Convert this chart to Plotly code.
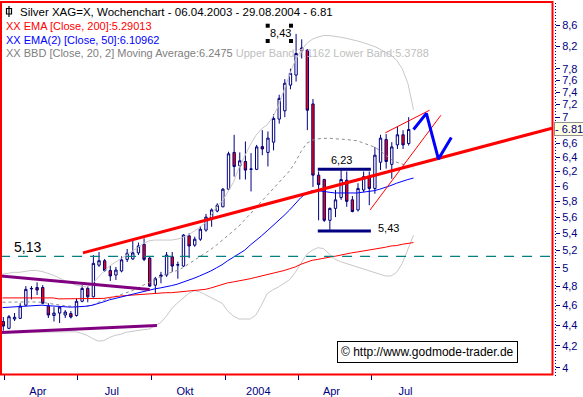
import math
import plotly.graph_objects as go
import pandas as pd

# ---------------- data ----------------
weeks = pd.date_range("2003-03-31", periods=73, freq="7D")      # weekly candles
ind_dates = pd.date_range("2003-03-30", periods=74, freq="7D")  # indicator points

opens = [4.435, 4.368, 4.46, 4.467, 4.60, 4.77, 4.785, 4.785, 4.59, 4.495,
         4.52, 4.50, 4.515, 4.495, 4.64, 4.775, 4.687, 5.03, 5.08, 4.97,
         4.92, 4.965, 5.095, 5.10, 5.17, 5.27, 5.11, 4.81, 4.905, 4.92,
         5.125, 5.03, 5.02, 5.37, 5.26, 5.33, 5.44, 5.59, 5.676, 5.73,
         5.96, 6.47, 6.28, 6.34, 6.23, 6.23, 6.555, 6.47, 6.62, 6.97,
         7.10, 7.52, 7.69, 8.17, 8.13, 7.21, 6.15, 6.09, 5.56, 5.71,
         5.85, 6.08, 5.82, 5.69, 5.95, 6.13, 5.97, 6.33, 6.66, 6.30,
         6.58, 6.73, 6.60]
highs = [4.48, 4.50, 4.52, 4.62, 4.80, 4.80, 4.84, 4.81, 4.62, 4.58,
         4.59, 4.55, 4.54, 4.67, 4.81, 4.80, 5.145, 5.18, 5.10, 5.02,
         5.01, 5.13, 5.215, 5.33, 5.29, 5.34, 5.135, 4.90, 4.955, 5.18,
         5.18, 5.07, 5.39, 5.40, 5.36, 5.49, 5.64, 5.71, 5.775, 5.975,
         6.48, 6.73, 6.47, 6.63, 6.46, 6.58, 6.80, 6.78, 7.05, 7.36,
         7.62, 7.80, 8.43, 8.33, 8.15, 7.29, 6.20, 6.10, 5.72, 5.95,
         6.22, 6.20, 5.87, 6.04, 6.20, 6.20, 6.55, 6.73, 6.74, 6.62,
         6.86, 6.80, 7.00]
lows = [4.345, 4.36, 4.44, 4.46, 4.59, 4.66, 4.705, 4.61, 4.47, 4.435,
        4.42, 4.47, 4.465, 4.485, 4.63, 4.63, 4.68, 5.01, 4.955, 4.855,
        4.866, 4.95, 5.065, 5.09, 5.145, 5.075, 4.79, 4.72, 4.83, 4.90,
        4.955, 4.88, 5.01, 5.11, 5.24, 5.31, 5.42, 5.48, 5.66, 5.725,
        5.95, 6.13, 6.09, 6.09, 5.93, 6.22, 6.43, 6.27, 6.50, 6.90,
        7.00, 7.45, 7.58, 7.98, 6.80, 5.99, 5.56, 5.54, 5.43, 5.60,
        5.82, 5.73, 5.66, 5.67, 5.92, 5.75, 5.90, 6.22, 6.24, 6.10,
        6.52, 6.52, 6.57]
closes = [4.39, 4.483, 4.477, 4.59, 4.765, 4.775, 4.758, 4.62, 4.50, 4.52,
          4.58, 4.53, 4.48, 4.64, 4.775, 4.687, 5.05, 5.08, 4.97, 4.91,
          4.975, 5.09, 5.165, 5.17, 5.25, 5.095, 4.80, 4.88, 4.92, 5.145,
          5.02, 5.035, 5.38, 5.25, 5.33, 5.45, 5.60, 5.69, 5.75, 5.96,
          6.45, 6.27, 6.35, 6.22, 6.235, 6.55, 6.52, 6.68, 6.98, 7.30,
          7.55, 7.72, 8.07, 8.12, 7.11, 6.15, 6.02, 5.56, 5.71, 5.82,
          6.09, 5.80, 5.67, 5.97, 6.13, 5.97, 6.43, 6.68, 6.34, 6.55,
          6.73, 6.58, 6.81]

ema200 = [4.675, 4.675, 4.675, 4.675, 4.675, 4.675, 4.675, 4.675, 4.675, 4.675,
          4.665, 4.665, 4.665, 4.665, 4.665, 4.665, 4.665, 4.665, 4.67, 4.68,
          4.69, 4.695, 4.70, 4.705, 4.71, 4.715, 4.72, 4.72, 4.725, 4.73,
          4.73, 4.735, 4.74, 4.745, 4.75, 4.755, 4.765, 4.78, 4.80, 4.82,
          4.835, 4.845, 4.855, 4.87, 4.88, 4.895, 4.91, 4.92, 4.935, 4.95,
          4.97, 4.99, 5.01, 5.04, 5.065, 5.085, 5.095, 5.11, 5.12, 5.13,
          5.145, 5.16, 5.17, 5.18, 5.19, 5.20, 5.21, 5.22, 5.235, 5.25,
          5.255, 5.27, 5.28, 5.29]
ema50 = [4.575, 4.578, 4.582, 4.586, 4.59, 4.595, 4.60, 4.60, 4.595, 4.59,
         4.585, 4.58, 4.58, 4.582, 4.585, 4.59, 4.60, 4.615, 4.635, 4.655,
         4.67, 4.685, 4.70, 4.715, 4.73, 4.745, 4.76, 4.77, 4.78, 4.79,
         4.805, 4.82, 4.84, 4.86, 4.885, 4.91, 4.935, 4.965, 5.00, 5.035,
         5.08, 5.12, 5.16, 5.20, 5.26, 5.31, 5.37, 5.43, 5.49, 5.55,
         5.62, 5.69, 5.77, 5.85, 5.91, 5.94, 5.94, 5.93, 5.92, 5.91,
         5.91, 5.91, 5.91, 5.91, 5.92, 5.93, 5.94, 5.96, 5.98, 6.01,
         6.04, 6.07, 6.09, 6.11]
bb_mid = [4.63, 4.632, 4.634, 4.635, 4.635, 4.634, 4.632, 4.63, 4.62, 4.61,
          4.60, 4.595, 4.59, 4.587, 4.585, 4.59, 4.60, 4.63, 4.65, 4.67,
          4.69, 4.71, 4.73, 4.75, 4.78, 4.81, 4.84, 4.87, 4.90, 4.93,
          4.95, 4.97, 5.00, 5.04, 5.08, 5.12, 5.16, 5.21, 5.26, 5.32,
          5.37, 5.43, 5.49, 5.56, 5.64, 5.72, 5.80, 5.88, 5.96, 6.04,
          6.12, 6.21, 6.33, 6.48, 6.60, 6.65, 6.67, 6.68, 6.68, 6.67,
          6.67, 6.66, 6.65, 6.64, 6.61, 6.58, 6.55, 6.50, 6.44, 6.37,
          6.33, 6.30, 6.27, 6.2475]
bb_up = [4.93, 4.94, 4.95, 4.95, 4.96, 4.97, 4.97, 4.96, 4.94, 4.92,
         4.89, 4.86, 4.84, 4.81, 4.80, 4.79, 4.83, 4.90, 4.96, 5.02,
         5.06, 5.10, 5.14, 5.18, 5.23, 5.28, 5.31, 5.32, 5.32, 5.32,
         5.32, 5.33, 5.35, 5.38, 5.42, 5.47, 5.53, 5.62, 5.73, 5.80,
         5.92, 6.05, 6.25, 6.42, 6.58, 6.72, 6.82, 6.88, 7.00, 7.18,
         7.45, 7.70, 7.95, 8.12, 8.25, 8.33, 8.37, 8.40, 8.40, 8.39,
         8.37, 8.35, 8.33, 8.30, 8.27, 8.24, 8.20, 8.15, 8.10, 8.04,
         7.95, 7.80, 7.55, 7.1162]
bb_low = [4.32, 4.32, 4.32, 4.32, 4.325, 4.33, 4.33, 4.33, 4.33, 4.33,
          4.33, 4.33, 4.33, 4.335, 4.32, 4.30, 4.27, 4.245, 4.25, 4.28,
          4.30, 4.31, 4.33, 4.34, 4.35, 4.355, 4.36, 4.39, 4.42, 4.48,
          4.56, 4.62, 4.67, 4.72, 4.75, 4.74, 4.71, 4.68, 4.65, 4.62,
          4.54, 4.49, 4.46, 4.46, 4.46, 4.50, 4.60, 4.72, 4.76, 4.79,
          4.83, 4.87, 4.95, 5.05, 5.15, 5.20, 5.23, 5.22, 5.16, 5.10,
          5.07, 5.05, 5.03, 5.01, 4.99, 4.97, 4.95, 4.93, 4.91, 4.91,
          4.95, 5.05, 5.22, 5.3788]

# chart drawings (endpoints of hand-drawn lines)
trend_dates = ["2003-07-08", "2005-02-10 05:00"]
trend_vals = [5.17, 6.83]
purple_up_dates = ["2003-03-27", "2003-09-29"]
purple_up_vals = [4.91, 4.763]
purple_low_dates = ["2003-03-27", "2003-10-08"]
purple_low_vals = [4.326, 4.395]
level_513_dates = ["2003-03-27", "2005-02-10 05:00"]
level_513 = 5.13
box_dates = ["2004-04-25", "2004-06-30"]
level_hi = 6.23
level_lo = 5.43
chan_up_dates = ["2004-07-18", "2004-09-11"]
chan_up_vals = [6.76, 7.11]
chan_low_dates = ["2004-06-29", "2004-09-25"]
chan_low_vals = [5.69, 7.03]
proj_dates = ["2004-08-22", "2004-09-07", "2004-09-22", "2004-10-08"]
proj_vals = [6.81, 7.06, 6.375, 6.69]
peak_date = "2004-03-29"
peak_val = 8.43
last_close = 6.81

ytick_vals = [4.0, 4.2, 4.4, 4.6, 4.8, 5.0, 5.2, 5.4, 5.6, 5.8, 6.0, 6.2, 6.4,
              6.6, 7.0, 7.2, 7.4, 7.6, 7.8, 8.2, 8.6]
ytick_text = ["4", "4,2", "4,4", "4,6", "4,8", "5", "5,2", "5,4", "5,6", "5,8",
              "6", "6,2", "6,4", "6,6", "7", "7,2", "7,4", "7,6", "7,8",
              "8,2", "8,6"]
quarter_starts = ["2003-04-01", "2003-07-01", "2003-10-01", "2004-01-01",
                  "2004-04-01", "2004-07-01"]
xlabel_pos = ["2003-05-13", "2003-08-13", "2003-11-12", "2004-02-11",
              "2004-05-12", "2004-08-12"]
xlabel_text = ["Apr", "Jul", "Okt", "2004", "Apr", "Jul"]

# ---------------- layout helpers ----------------
W, H = 583, 397
X0, X1, Y0, Y1 = 1, 555, 2, 374
NAVY = "#000080"
FONT = "Liberation Sans, Arial, sans-serif"


def px(x):
    return (x - X0) / (X1 - X0)


def py(y):
    return (Y1 - y) / (Y1 - Y0)


def ly(v):  # annotation position on the log axis
    return math.log10(v)


fig = go.Figure()

# indicators
fig.add_trace(go.Scatter(x=ind_dates, y=bb_up, mode="lines",
                         line=dict(color="#c8c8c8", width=1), hoverinfo="skip"))
fig.add_trace(go.Scatter(x=ind_dates, y=bb_low, mode="lines",
                         line=dict(color="#c8c8c8", width=1), hoverinfo="skip"))
fig.add_trace(go.Scatter(x=ind_dates, y=bb_mid, mode="lines",
                         line=dict(color="#8c8c8c", width=1, dash="3px,3px"),
                         hoverinfo="skip"))
fig.add_trace(go.Scatter(x=ind_dates, y=ema200, mode="lines",
                         line=dict(color="#ff0000", width=1), hoverinfo="skip"))
fig.add_trace(go.Scatter(x=ind_dates, y=ema50, mode="lines",
                         line=dict(color="#0000ff", width=1), hoverinfo="skip"))

# candles
fig.add_trace(go.Candlestick(
    x=weeks, open=opens, high=highs, low=lows, close=closes,
    increasing=dict(line=dict(color=NAVY, width=1), fillcolor="white"),
    decreasing=dict(line=dict(color=NAVY, width=1), fillcolor="#ff0000"),
    whiskerwidth=0, hoverinfo="skip"))

# drawings
fig.add_trace(go.Scatter(x=level_513_dates, y=[level_513, level_513], mode="lines",
                         line=dict(color="#008080", width=1.3, dash="10px,8px"),
                         hoverinfo="skip"))
fig.add_trace(go.Scatter(x=purple_up_dates, y=purple_up_vals, mode="lines",
                         line=dict(color="#800080", width=3), hoverinfo="skip"))
fig.add_trace(go.Scatter(x=purple_low_dates, y=purple_low_vals, mode="lines",
                         line=dict(color="#800080", width=3), hoverinfo="skip"))
fig.add_trace(go.Scatter(x=trend_dates, y=trend_vals, mode="lines",
                         line=dict(color="#ff0000", width=3), hoverinfo="skip"))
fig.add_trace(go.Scatter(x=box_dates, y=[level_hi, level_hi], mode="lines",
                         line=dict(color=NAVY, width=3), hoverinfo="skip"))
fig.add_trace(go.Scatter(x=box_dates, y=[level_lo, level_lo], mode="lines",
                         line=dict(color=NAVY, width=3), hoverinfo="skip"))
fig.add_trace(go.Scatter(x=chan_up_dates, y=chan_up_vals, mode="lines",
                         line=dict(color="#ff0000", width=1), hoverinfo="skip"))
fig.add_trace(go.Scatter(x=chan_low_dates, y=chan_low_vals, mode="lines",
                         line=dict(color="#ff0000", width=1), hoverinfo="skip"))
fig.add_trace(go.Scatter(x=proj_dates, y=proj_vals, mode="lines",
                         line=dict(color="#0000ff", width=3), hoverinfo="skip"))

annotations = []
# header lines
hdr = [
    (18, 12, "Silver XAG=X, Wochenchart - 06.04.2003 - 29.08.2004 - 6.81", "#000000", 11.5),
    (4, 25.5, "XX EMA [Close, 200]:5.29013", "#ff0000", 11),
    (4, 39.5, "XX EMA(2) [Close, 50]:6.10962", "#0000ff", 11),
    (4, 53, "XX BBD [Close, 20, 2] Moving Average:6.2475 "
            "<span style='color:#c0c0c0'>Upper Band:7.1162 Lower Band:5.3788</span>",
     "#808080", 11),
]
for x, y, t, c, s in hdr:
    annotations.append(dict(xref="paper", yref="paper", x=px(x), y=py(y), text=t,
                            xanchor="left", yanchor="middle", showarrow=False,
                            font=dict(family=FONT, size=s, color=c)))

# value labels
annotations.append(dict(x=peak_date, y=ly(peak_val), yref="y", xref="x",
                        text="8,43", showarrow=False, xanchor="center",
                        yanchor="middle", xshift=-16, yshift=1,
                        font=dict(family=FONT, size=11, color="black")))
annotations.append(dict(x="2004-05-25", y=ly(level_hi), text="6,23", showarrow=False,
                        xanchor="center", yanchor="middle", yshift=9,
                        font=dict(family=FONT, size=11, color="black")))
annotations.append(dict(x="2004-07-06", y=ly(level_lo), text="5,43", showarrow=False,
                        xanchor="left", yanchor="middle", yshift=3,
                        font=dict(family=FONT, size=11, color="black")))
annotations.append(dict(x="2003-04-11", y=ly(level_513), text="5,13", showarrow=False,
                        xanchor="left", yanchor="middle", yshift=9,
                        font=dict(family=FONT, size=14, color="black")))
# last price box on axis
annotations.append(dict(xref="paper", yref="y", x=px(553.5), y=ly(last_close),
                        text="- 6.81", showarrow=False, xanchor="left",
                        yanchor="middle", bgcolor="#ffffe1", bordercolor="#909090",
                        borderwidth=1, borderpad=0,
                        font=dict(family=FONT, size=11, color=NAVY)))
# copyright box
annotations.append(dict(xref="paper", yref="paper", x=px(427.5), y=py(352),
                        text="© http://www.godmode-trader.de", showarrow=False,
                        xanchor="center", yanchor="middle", bgcolor="white",
                        bordercolor="black", borderwidth=1, borderpad=3,
                        font=dict(family=FONT, size=12, color="black")))

shapes = []
# red frame
shapes.append(dict(type="rect", xref="paper", yref="paper",
                   x0=px(1), x1=px(552.5), y0=py(374.5), y1=py(2),
                   line=dict(color="#ff0000", width=2), layer="above"))
# dotted axis line
shapes.append(dict(type="line", xref="paper", yref="paper",
                   x0=px(555.5), x1=px(555.5), y0=py(376), y1=py(2),
                   line=dict(color=NAVY, width=1, dash="1px,2px"), layer="above"))
# header icon
shapes.append(dict(type="rect", xref="paper", yref="paper",
                   x0=px(6.5), x1=px(11.5), y0=py(14), y1=py(8.5),
                   line=dict(color="black", width=1.2)))
shapes.append(dict(type="line", xref="paper", yref="paper",
                   x0=px(9), x1=px(9), y0=py(17), y1=py(6),
                   line=dict(color="black", width=1.2)))
# selection handles around 8,43
for hx in (267.7, 291):
    for hy in (25.7, 41):
        shapes.append(dict(type="rect", xref="paper", yref="paper",
                           x0=px(hx - 2), x1=px(hx + 2), y0=py(hy + 2), y1=py(hy - 2),
                           line=dict(width=0), fillcolor="black"))

fig.update_layout(
    width=W, height=H, autosize=False,
    margin=dict(l=X0, r=W - X1, t=Y0, b=H - Y1, pad=0),
    paper_bgcolor="white", plot_bgcolor="white",
    showlegend=False, boxgap=0.4,
    annotations=annotations, shapes=shapes,
    xaxis=dict(type="date", range=["2003-03-28 03:00", "2005-02-13 22:00"],
               rangeslider=dict(visible=False), showgrid=False, zeroline=False,
               tickmode="array", tickvals=xlabel_pos, ticktext=xlabel_text,
               ticks="outside", ticklen=7, tickcolor="rgba(0,0,0,0)",
               tickfont=dict(family=FONT, size=11, color=NAVY),
               minor=dict(tickmode="array", tickvals=quarter_starts,
                          ticks="outside", ticklen=5, tickcolor=NAVY,
                          tickwidth=1, showgrid=False)),
    yaxis=dict(type="log", range=[0.59599, 0.95681], side="right",
               showgrid=False, zeroline=False, tickmode="array",
               tickvals=ytick_vals, ticktext=ytick_text, ticks="outside",
               ticklen=4, tickcolor=NAVY,
               tickfont=dict(family=FONT, size=11, color=NAVY)),
)

fig.write_html(
    "out.html",
    config={"displayModeBar": False},
    post_script="document.body.style.margin='0';document.body.style.padding='0';",
)
